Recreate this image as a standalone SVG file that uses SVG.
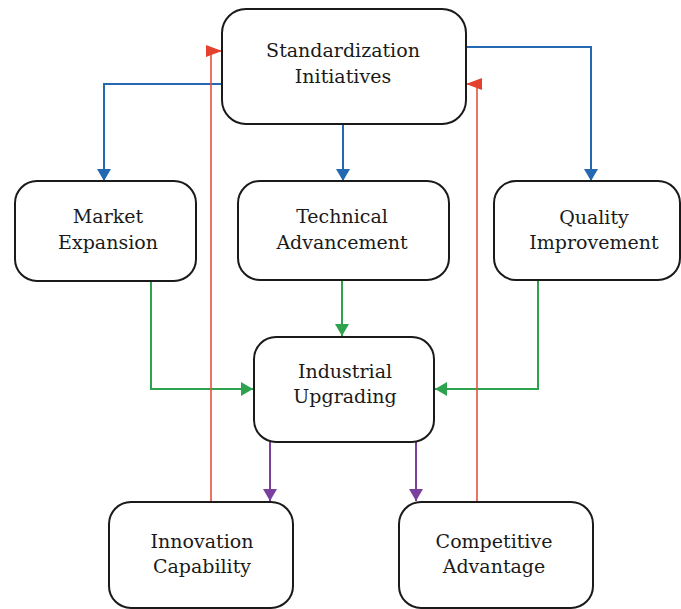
<svg xmlns="http://www.w3.org/2000/svg" width="681" height="609" viewBox="0 0 681 609">
<style>
.box{fill:#fff;stroke:#1a1a1a;stroke-width:2}
.t{font-family:'DejaVu Serif','Times New Roman',serif;font-size:19px;fill:#1a1a1a;text-anchor:middle}
.c{fill:none;stroke-width:2}
.b{stroke:#2368b0}
.g{stroke:#2fa24f}
.r{stroke:#e8503f;stroke-width:1.6}
.p{stroke:#7b3f9e}
</style>
<defs>
<marker id="ab" viewBox="0 0 12 14" refX="12" refY="7" markerWidth="12" markerHeight="14" markerUnits="userSpaceOnUse" orient="auto"><path d="M0,0 L12,7 L0,14 Z" fill="#2368b0"/></marker>
<marker id="ag" viewBox="0 0 12 14" refX="12" refY="7" markerWidth="12" markerHeight="14" markerUnits="userSpaceOnUse" orient="auto"><path d="M0,0 L12,7 L0,14 Z" fill="#2fa24f"/></marker>
<marker id="ar" viewBox="0 0 16 12" refX="16" refY="6" markerWidth="16" markerHeight="12" markerUnits="userSpaceOnUse" orient="auto"><path d="M0,0 L16,6 L0,12 Z" fill="#e5412f"/></marker>
<marker id="ap" viewBox="0 0 12 14" refX="12" refY="7" markerWidth="12" markerHeight="14" markerUnits="userSpaceOnUse" orient="auto"><path d="M0,0 L12,7 L0,14 Z" fill="#7b3f9e"/></marker>
</defs>
<g id="connectors">
<path class="c b" d="M222,84 H104 V181" marker-end="url(#ab)"/>
<path class="c b" d="M343,124 V181" marker-end="url(#ab)"/>
<path class="c b" d="M466,47 H591 V181" marker-end="url(#ab)"/>
<path class="c g" d="M151,281 V389 H253" marker-end="url(#ag)"/>
<path class="c g" d="M342,280 V336" marker-end="url(#ag)"/>
<path class="c g" d="M538,281 V389 H435" marker-end="url(#ag)"/>
<path class="c p" d="M270,442 V501" marker-end="url(#ap)"/>
<path class="c p" d="M416,442 V501" marker-end="url(#ap)"/>
<path class="c r" d="M211,502 V51 H222" marker-end="url(#ar)"/>
<path class="c r" d="M477,502 V84 H466" marker-end="url(#ar)"/>
</g>
<g id="standardization">
<rect class="box" x="222" y="9" width="244" height="115" rx="24"/>
<text class="t" x="343" y="57">Standardization</text>
<text class="t" x="343" y="83">Initiatives</text>
</g>
<g id="market">
<rect class="box" x="15" y="181" width="181" height="100" rx="22"/>
<text class="t" x="108" y="223">Market</text>
<text class="t" x="108" y="249">Expansion</text>
</g>
<g id="technical">
<rect class="box" x="238" y="181" width="211" height="99" rx="22"/>
<text class="t" x="342" y="223">Technical</text>
<text class="t" x="342" y="249">Advancement</text>
</g>
<g id="quality">
<rect class="box" x="494" y="181" width="186" height="99" rx="22"/>
<text class="t" x="594" y="224">Quality</text>
<text class="t" x="594" y="249">Improvement</text>
</g>
<g id="industrial">
<rect class="box" x="254" y="337" width="180" height="105" rx="22"/>
<text class="t" x="345" y="378">Industrial</text>
<text class="t" x="345" y="403">Upgrading</text>
</g>
<g id="innovation">
<rect class="box" x="109" y="502" width="184" height="106" rx="22"/>
<text class="t" x="202" y="548">Innovation</text>
<text class="t" x="202" y="573">Capability</text>
</g>
<g id="competitive">
<rect class="box" x="399" y="502" width="194" height="106" rx="22"/>
<text class="t" x="494" y="548">Competitive</text>
<text class="t" x="494" y="573">Advantage</text>
</g>
</svg>
